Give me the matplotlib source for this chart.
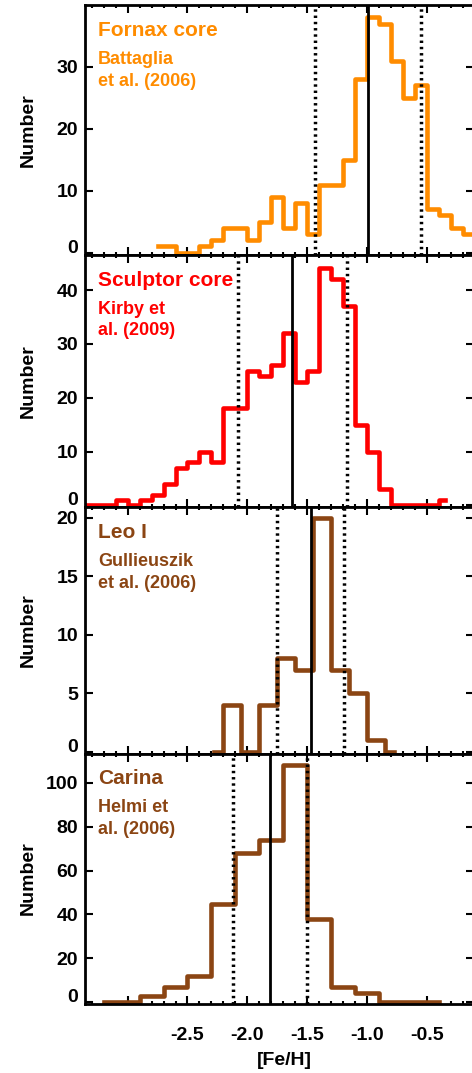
import numpy as np
import matplotlib
matplotlib.use('Agg')
import matplotlib.pyplot as plt
from matplotlib.ticker import MultipleLocator

plt.rcParams['font.family'] = ['Liberation Sans', 'DejaVu Sans']
plt.rcParams['font.weight'] = 'bold'
plt.rcParams['axes.unicode_minus'] = False

# [Fe/H] histograms: lower edge of first bin, bin width, counts per bin
fornax_lo, fornax_w = -2.8, 0.1
fornax_counts = [1, 1, 0, 0, 1, 2, 4, 4, 2, 5, 9, 4, 8, 3,
                 11, 11, 15, 28, 38, 37, 31, 25, 27, 7, 6, 4, 3, 2]
fornax_lines = [-1.43, -0.99, -0.55]

sculptor_lo, sculptor_w = -3.4, 0.1
sculptor_counts = [0, 0, 0, 1, 0, 1, 2, 4, 7, 8, 10, 8, 18, 18, 25, 24,
                   26, 32, 23, 25, 44, 42, 37, 15, 10, 3, 0, 0, 0, 0, 1]
sculptor_lines = [-2.08, -1.63, -1.17]

leo_lo, leo_w = -2.35, 0.15
leo_counts = [0, 4, 0, 4, 8, 7, 20, 7, 5, 1, 0]
leo_lines = [-1.75, -1.47, -1.19]

carina_lo, carina_w = -3.3, 0.2
carina_counts = [0, 0, 3, 7, 12, 45, 68, 74, 108, 38, 7, 4, 0, 0, 0]
carina_lines = [-2.12, -1.81, -1.50]

panels = [
    ('Fornax core', 'Battaglia\net al. (2006)', '#FF8C00',
     fornax_lo, fornax_w, fornax_counts, fornax_lines, [0, 10, 20, 30], (-0.3, 40.0)),
    ('Sculptor core', 'Kirby et\nal. (2009)', '#FF0000',
     sculptor_lo, sculptor_w, sculptor_counts, sculptor_lines, [0, 10, 20, 30, 40], (-0.3, 46.6)),
    ('Leo I', 'Gullieuszik\net al. (2006)', '#8B4513',
     leo_lo, leo_w, leo_counts, leo_lines, [0, 5, 10, 15, 20], (-0.12, 20.9)),
    ('Carina', 'Helmi et\nal. (2006)', '#8B4513',
     carina_lo, carina_w, carina_counts, carina_lines, [0, 20, 40, 60, 80, 100], (-0.6, 113.4)),
]

xticks = [-3.0, -2.5, -2.0, -1.5, -1.0, -0.5]
xticklabels = ['', '-2.5', '-2.0', '-1.5', '-1.0', '-0.5']

W, H = 472, 1073
fig = plt.figure(figsize=(W / 100, H / 100), dpi=100)

# panel boundaries in pixels from the top
edges = [5, 254.5, 507, 753.5, 1003.5]
left, right = 85, 474

for i, (name, ref, color, lo, w, counts, vlines, yt, ylim) in enumerate(panels):
    top, bot = edges[i], edges[i + 1]
    ax = fig.add_axes([left / W, 1 - bot / H, (right - left) / W, (bot - top) / H])

    centers = lo + w * (np.arange(len(counts)) + 0.5)
    ax.step(centers, counts, where='mid', color=color, lw=3.3, zorder=2)

    # mean and +/- dispersion
    ax.axvline(vlines[1], color='black', lw=2.0, zorder=3)
    for v in (vlines[0], vlines[2]):
        ax.axvline(v, color='black', lw=2.5, ls=(0, (0.7, 1.1)), zorder=3)

    ax.set_xlim(-3.357, -0.104)
    ax.set_ylim(*ylim)
    ax.set_xticks(xticks)
    ax.xaxis.set_minor_locator(MultipleLocator(0.1))
    ticks = ax.set_yticks(yt, labels=[str(t) for t in yt])
    ticks[0].label1.set_va('baseline')

    ax.tick_params(which='both', direction='in', top=True, right=True, width=1.5)
    ax.tick_params(which='major', length=5.5, labelsize=14, pad=5)
    ax.tick_params(which='minor', length=2.5)
    ax.tick_params(axis='x', pad=17)
    for s in ax.spines.values():
        s.set_linewidth(2.0)

    if i == 3:
        ax.set_xticklabels(xticklabels)
        ax.set_xlabel('[Fe/H]', fontsize=14, fontweight='bold')
        ax.xaxis.set_label_coords((284 - left) / (right - left), -0.195)
    else:
        ax.tick_params(axis='x', labelbottom=False)

    ax.set_ylabel('Number', fontsize=14, fontweight='bold')
    ax.yaxis.set_label_coords(-0.125, 0.5)

    ax.annotate(name, xy=(0, 1), xycoords='axes fraction', xytext=(13, -31),
                textcoords='offset pixels', va='baseline', ha='left',
                fontsize=15, fontweight='bold', color=color)
    for k, line in enumerate(ref.split('\n')):
        ax.annotate(line, xy=(0, 1), xycoords='axes fraction',
                    xytext=(13, -59 - 21.5 * k), textcoords='offset pixels',
                    va='baseline', ha='left', fontsize=13, fontweight='bold',
                    color=color)

fig.savefig('out.png', dpi=100)
